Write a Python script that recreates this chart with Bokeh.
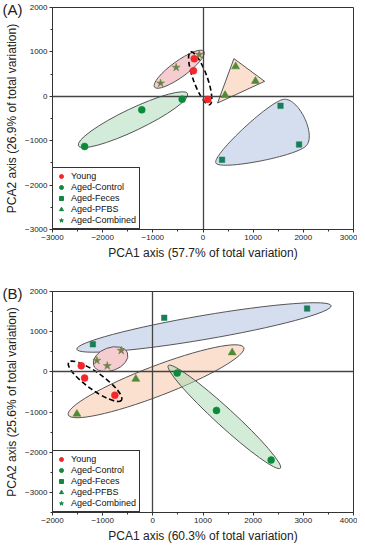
import numpy as np
from bokeh.plotting import figure
from bokeh.layouts import column
from bokeh.models import Range1d, SingleIntervalTicker, Legend, LegendItem, Title
from bokeh.embed import file_html
from bokeh.resources import INLINE

FONT = "Liberation Sans"

# ---------------- data ----------------
groups = ["Young", "Aged-Control", "Aged-Feces", "Aged-PFBS", "Aged-Combined"]

# Panel A
A_young_x = [-175, -190, 95]
A_young_y = [845, 575, -70]
A_control_x = [-415, -1220, -2360]
A_control_y = [-65, -305, -1130]
A_feces_x = [1545, 1915, 380]
A_feces_y = [-215, -1085, -1430]
A_pfbs_x = [650, 1045, 440]
A_pfbs_y = [670, 340, 25]
A_comb_x = [-75, -535, -845]
A_comb_y = [940, 650, 295]

# Panel B
B_young_x = [-1426, -1360, -757]
B_young_y = [150, -153, -580]
B_control_x = [486, 1269, 2358]
B_control_y = [-30, -960, -2195]
B_feces_x = [-1195, 227, 3075]
B_feces_y = [686, 1345, 1575]
B_pfbs_x = [1582, -339, -1514]
B_pfbs_y = [480, -178, -1050]
B_comb_x = [-630, -1115, -908]
B_comb_y = [530, 284, 150]

A_xlabel = "PCA1 axis (57.7% of total variation)"
A_ylabel = "PCA2 axis (26.9% of total variation)"
B_xlabel = "PCA1 axis (60.3% of total variation)"
B_ylabel = "PCA2 axis (25.6% of total variation)"

# ---------------- styles ----------------
MARK = {
    "Young": dict(marker="circle", size=7, color="#f4262a"),
    "Aged-Control": dict(marker="circle", size=7, color="#0b8a3b"),
    "Aged-Feces": dict(marker="square", size=5.5, color="#157f58"),
    "Aged-PFBS": dict(marker="triangle", size=8, color="#4f8b34"),
    "Aged-Combined": dict(marker="star", size=8.5, color="#6a8444"),
}
LEG_GREEN = "#12883d"
EDGE = "#555555"

A_ellipses = [
    dict(x=-1395, y=-527, w=121, h=22, a=25.5, fill="#d3ecd9", alpha=1.0, dash="solid", lc=EDGE, lw=1),
    dict(x=-474, y=610, w=61, h=16, a=36, fill="#f5cdd1", alpha=1.0, dash="solid", lc=EDGE, lw=1),
    dict(x=-56, y=405, w=56, h=14, a=110, fill=None, alpha=0, dash="5 3", lc="black", lw=1.6),
]
B_ellipses = [
    dict(x=1019, y=1105, w=258, h=24, a=9.7, fill="#d5deef", alpha=1.0, dash="solid", lc=EDGE, lw=1),
    dict(x=64, y=-234, w=188, h=30, a=21, fill="#fbdfcf", alpha=1.0, dash="solid", lc=EDGE, lw=1),
    dict(x=1425, y=-1120, w=152, h=18, a=-42.5, fill="#a6dab2", alpha=0.5, dash="solid", lc=EDGE, lw=1),
    dict(x=-843, y=316, w=36, h=23, a=20, fill="#f5cdd1", alpha=1.0, dash="solid", lc=EDGE, lw=1),
    dict(x=-1152, y=-234, w=65, h=17, a=-35.7, fill=None, alpha=0, dash="5 3", lc="black", lw=1.6),
]

FRAME_W = 301


def catmull_closed(P, n=40):
    P = np.asarray(P, float)
    m = len(P)
    out = []
    t = np.linspace(0, 1, n, endpoint=False)[:, None]
    h00 = 2 * t**3 - 3 * t**2 + 1
    h10 = t**3 - 2 * t**2 + t
    h01 = -2 * t**3 + 3 * t**2
    h11 = t**3 - t**2
    for i in range(m):
        p0, p1, p2, p3 = P[(i - 1) % m], P[i], P[(i + 1) % m], P[(i + 2) % m]
        m1 = (p2 - p0) / 2
        m2 = (p3 - p1) / 2
        out.append(h00 * p1 + h10 * m1 + h01 * p2 + h11 * m2)
    return np.vstack(out)


def make_panel(tag, xr, yr, frame_h, top, xlabel, ylabel, data, ellipses, tri_group, blob_group):
    p = figure(frame_width=FRAME_W, frame_height=frame_h,
               x_range=Range1d(*xr), y_range=Range1d(*yr),
               output_backend="svg", toolbar_location=None,
               min_border_left=52, min_border_right=4, min_border_top=top, min_border_bottom=0)
    p.grid.visible = False
    p.outline_line_color = "#333333"
    p.outline_line_width = 1
    p.outline_line_alpha = 1
    p.background_fill_color = "white"
    p.border_fill_color = "white"

    sx = FRAME_W / (xr[1] - xr[0])
    sy = frame_h / (yr[1] - yr[0])

    if tri_group is not None:
        tx, ty = np.array(data[tri_group][0], float), np.array(data[tri_group][1], float)
        cx, cy = tx.mean(), ty.mean()
        k = 1.55
        p.patch(cx + k * (tx - cx), cy + k * (ty - cy), fill_color="#fbdfcf",
                line_color=EDGE, line_width=1, line_join="round")
    if blob_group is not None:
        bx, by = np.array(data[blob_group][0], float), np.array(data[blob_group][1], float)
        px, py = bx * sx, by * sy
        cx, cy = px.mean(), py.mean()
        dx, dy = px - cx, py - cy
        d = np.hypot(dx, dy)
        ex, ey = px + 7 * dx / d, py + 7 * dy / d
        curve = catmull_closed(np.column_stack([ex, ey]))
        p.patch(curve[:, 0] / sx, curve[:, 1] / sy, fill_color="#d5deef",
                line_color=EDGE, line_width=1)

    for e in ellipses:
        p.ellipse(x=[e["x"]], y=[e["y"]], width=[e["w"]], height=[e["h"]], angle=[e["a"]],
                  width_units="screen", height_units="screen", angle_units="deg",
                  fill_color=e["fill"], fill_alpha=e["alpha"], line_color=e["lc"],
                  line_width=e["lw"], line_dash=e["dash"])

    p.vspan(x=[0], line_color="#444444", line_width=1.3)
    p.hspan(y=[0], line_color="#444444", line_width=1.3)

    for g in groups:
        st = MARK[g]
        xs, ys = data[g]
        p.scatter(xs, ys, marker=st["marker"], size=st["size"],
                  fill_color=st["color"], line_color=st["color"], line_width=0.5)

    items = []
    for g in groups:
        st = MARK[g]
        c = st["color"] if g == "Young" else LEG_GREEN
        r = p.scatter([np.nan], [np.nan], marker=st["marker"], size=st["size"],
                      fill_color=c, line_color=c)
        items.append(LegendItem(label=g, renderers=[r]))
    leg = Legend(items=items, location="bottom_left", margin=0, padding=3, spacing=1,
                 label_height=10, glyph_height=10, glyph_width=10, label_standoff=5,
                 label_text_font=FONT, label_text_font_size="9px", label_text_color="#111111",
                 border_line_color="#333333", border_line_width=1, border_line_alpha=1,
                 background_fill_color="white", background_fill_alpha=1)
    p.add_layout(leg)

    p.xaxis.ticker = SingleIntervalTicker(interval=1000, num_minor_ticks=2)
    p.yaxis.ticker = SingleIntervalTicker(interval=1000, num_minor_ticks=2)
    for ax in (p.xaxis[0], p.yaxis[0]):
        ax.axis_line_color = "#333333"
        ax.major_tick_line_color = "#333333"
        ax.minor_tick_line_color = "#333333"
        ax.major_tick_out = 3
        ax.major_tick_in = 0
        ax.minor_tick_out = 2
        ax.minor_tick_in = 0
        ax.major_label_text_font = FONT
        ax.major_label_text_font_size = "8px"
        ax.major_label_text_color = "#222222"
        ax.major_label_standoff = 2
        ax.axis_label_text_font = FONT
        ax.axis_label_text_font_size = "12px"
        ax.axis_label_text_font_style = "normal"
        ax.axis_label_text_color = "#222222"
        ax.axis_label_standoff = 3
    p.xaxis.axis_label = xlabel
    p.yaxis.axis_label = ylabel

    p.add_layout(Title(text=tag, align="left", offset=-50, standoff=-21,
                       text_font=FONT, text_font_size="15px", text_font_style="normal",
                       text_color="#222222"), "above")
    return p


dataA = {
    "Young": (A_young_x, A_young_y),
    "Aged-Control": (A_control_x, A_control_y),
    "Aged-Feces": (A_feces_x, A_feces_y),
    "Aged-PFBS": (A_pfbs_x, A_pfbs_y),
    "Aged-Combined": (A_comb_x, A_comb_y),
}
dataB = {
    "Young": (B_young_x, B_young_y),
    "Aged-Control": (B_control_x, B_control_y),
    "Aged-Feces": (B_feces_x, B_feces_y),
    "Aged-PFBS": (B_pfbs_x, B_pfbs_y),
    "Aged-Combined": (B_comb_x, B_comb_y),
}

pA = make_panel("(A)", (-3000, 3000), (-3000, 2000), 222, 7, A_xlabel, A_ylabel,
                dataA, A_ellipses, "Aged-PFBS", "Aged-Feces")
pB = make_panel("(B)", (-2000, 4000), (-3500, 2000), 221, 29, B_xlabel, B_ylabel,
                dataB, B_ellipses, None, None)

layout = column(pA, pB, spacing=0)
open("out.html", "w").write(file_html(layout, INLINE))
